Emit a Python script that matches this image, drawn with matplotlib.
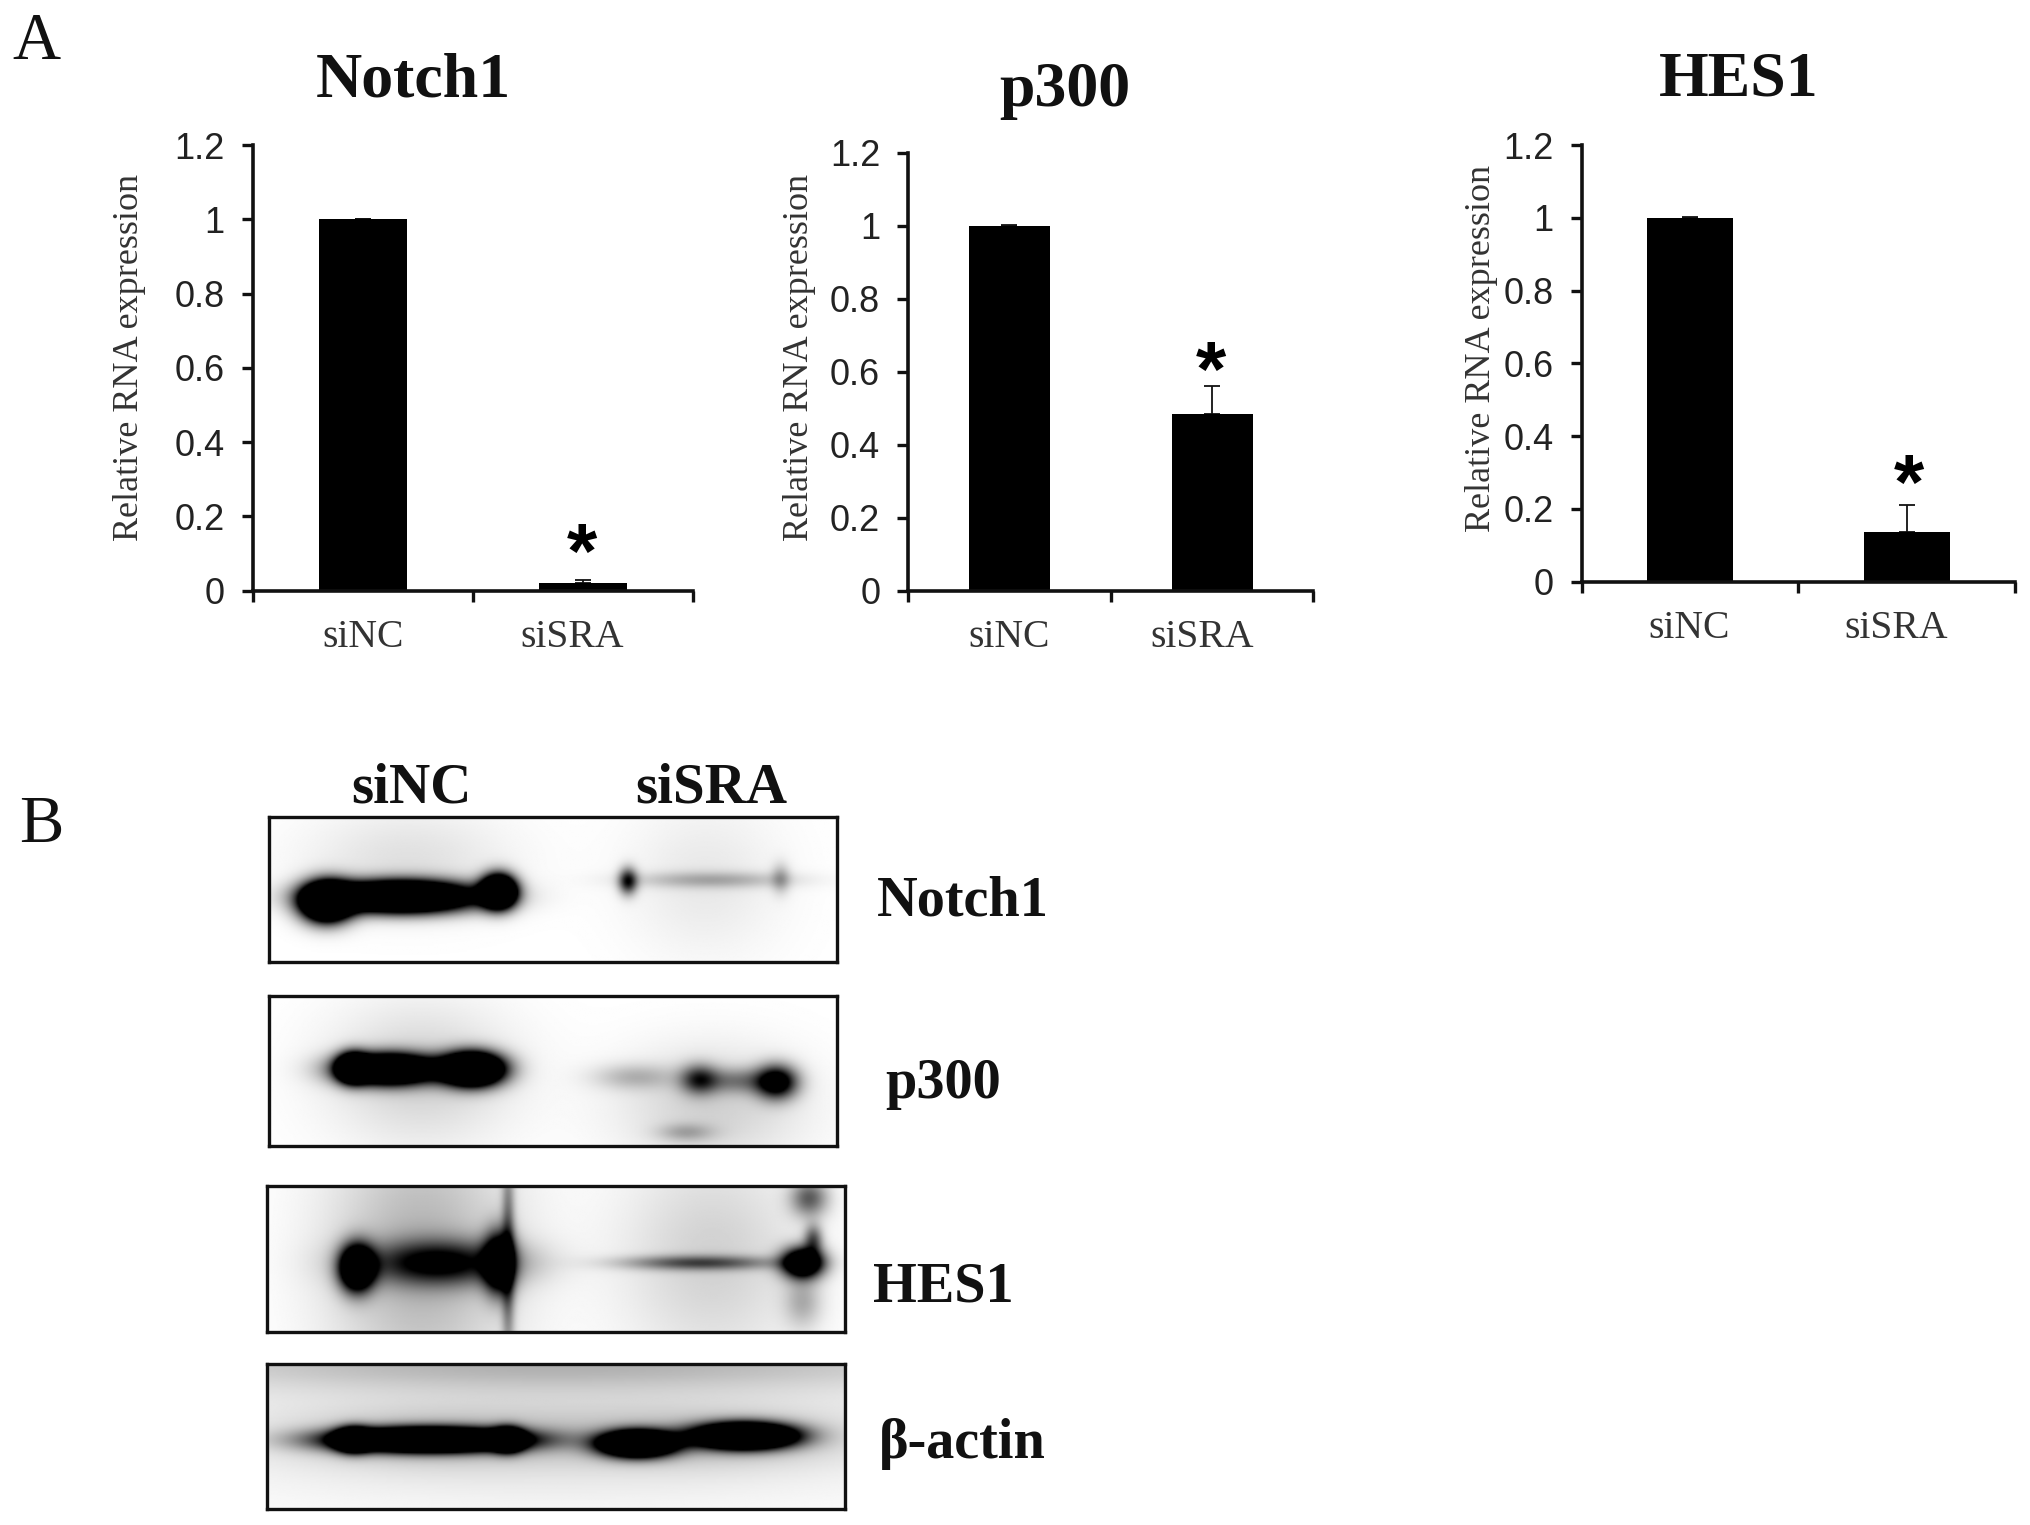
import numpy as np
import matplotlib
matplotlib.use("Agg")
import matplotlib.pyplot as plt

W, H = 2031, 1525
S = 2031 / 1568

conditions = ["siNC", "siSRA"]
yticks = [0, 0.2, 0.4, 0.6, 0.8, 1.0, 1.2]
ytick_labels = ["0", "0.2", "0.4", "0.6", "0.8", "1", "1.2"]

notch1_values = [1.0, 0.02]
notch1_errors = [0.002, 0.01]
p300_values = [1.0, 0.485]
p300_errors = [0.002, 0.075]
hes1_values = [1.0, 0.135]
hes1_errors = [0.002, 0.075]

fig = plt.figure(figsize=(W / 100, H / 100), dpi=100, facecolor="white")


def rect(x0, y0, x1, y1):
    """axes rectangle from coordinates in the shrunk view (y down)"""
    return [x0 * S / W, 1 - y1 * S / H, (x1 - x0) * S / W, (y1 - y0) * S / H]


def ftext(x, y, s, **kw):
    kw.setdefault("ha", "center")
    kw.setdefault("va", "center")
    fig.text(x * S / W, 1 - y * S / H, s, **kw)


SERIF = "Liberation Serif"
SANS = "Liberation Sans"

panels = [
    ("Notch1", notch1_values, notch1_errors, (195, 112, 535, 456), (319, 63), (100, 276), (280, 492), (442, 492), (449, 424)),
    ("p300", p300_values, p300_errors, (701, 118, 1014, 456), (822, 70), (617, 276), (779, 492), (928, 492), (935, 284)),
    ("HES1", hes1_values, hes1_errors, (1221, 112, 1556, 449), (1342, 62), (1144, 269), (1304, 485), (1464, 485), (1474, 371)),
]

for title, vals, errs, box, tpos, ypos, l0, l1, star in panels:
    ax = fig.add_axes(rect(*box))
    ax.set_xlim(0, 2)
    ax.set_ylim(0, 1.2)
    ax.patch.set_alpha(0)
    ax.bar([0.5, 1.5], vals, width=0.4, color="black", zorder=2)
    ax.errorbar([0.5, 1.5], vals, yerr=[[0, 0], errs], fmt="none", ecolor="#111111",
                elinewidth=1.3, capsize=6, capthick=1.3, zorder=1)
    for sp in ("top", "right"):
        ax.spines[sp].set_visible(False)
    for sp in ("left", "bottom"):
        ax.spines[sp].set_linewidth(2.6)
        ax.spines[sp].set_color("#111111")
    ax.set_yticks(yticks)
    ax.set_yticklabels(ytick_labels, fontsize=26, family=SANS, color="#222222")
    ax.set_xticks([0, 1, 2])
    ax.set_xticklabels([])
    ax.tick_params(axis="both", direction="out", length=8, width=2.4, color="#111111")
    ax.tick_params(axis="y", pad=12)
    ftext(*tpos, title, family=SERIF, weight="bold", fontsize=46, color="#111111")
    ftext(*ypos, "Relative RNA expression", family=SERIF, rotation=90, fontsize=26, color="#333333")
    ftext(*l0, conditions[0], family=SERIF, fontsize=28.5, color="#333333")
    ftext(*l1, conditions[1], family=SERIF, fontsize=28.5, color="#333333")
    ftext(*star, "*", family=SANS, weight="bold", fontsize=56, color="black", va="center_baseline")

# Western blot bands: (x centre, y centre, x spread, y spread, strength)
notch1_bands = [(252, 697, 13, 10, 3), (310, 693, 38, 8, 3), (385, 689, 9, 8.5, 3), (315, 665, 55, 28, .12),
                (485, 681, 5, 7, .9), (550, 680, 42, 4.5, .28), (603, 679, 5, 8, .3), (545, 680, 42, 42, .09)]
p300_bands = [(300, 826, 25, 8, 2.5), (365, 826, 16, 8.5, 3), (272, 825, 8, 7.5, 2), (325, 830, 50, 38, .18),
              (490, 832, 22, 7, .25), (540, 834, 10, 8, .7), (600, 836, 11, 9, 1.2), (570, 835, 20, 7, .4),
              (550, 855, 50, 32, .18), (530, 875, 15, 5, .25)]
hes1_bands = [(275, 979, 9, 12, 2), (340, 975, 40, 12, .9), (385, 975, 8, 16, 1.5), (325, 970, 50, 75, .3),
              (392, 970, 3.5, 60, .5), (540, 975, 40, 4, .6), (620, 975, 11, 8, 1.8), (625, 925, 10, 10, .6),
              (628, 957, 5, 8, .6), (550, 970, 50, 60, .18), (620, 1005, 10, 14, .28)]
actin_bands = [(330, 1112, 48, 6, 3), (272, 1112, 9, 6, 2), (392, 1112, 8, 6, 2), (492, 1115, 19, 6.5, 3),
               (575, 1109, 26, 6.5, 3), (335, 1112, 75, 15, .2), (540, 1112, 80, 15, .2),
               (430, 1053, 250, 14, .25), (430, 1095, 230, 35, .12), (430, 1150, 200, 18, .03)]

blots = [
    (notch1_bands, (208, 631, 646, 743), "Notch1", (743, 696)),
    (p300_bands, (208, 769, 646, 885), "p300", (728, 837)),
    (hes1_bands, (206, 916, 652, 1028), "HES1", (728, 994)),
    (actin_bands, (206, 1053, 652, 1165), "β-actin", (743, 1115)),
]

for bands, box, label, lpos in blots:
    x0, y0, x1, y1 = box
    ax = fig.add_axes(rect(*box))
    xx, yy = np.meshgrid(np.linspace(x0, x1, 440), np.linspace(y0, y1, 120))
    dark = np.zeros_like(xx)
    for xc, yc, sx, sy, amp in bands:
        dark += amp * np.exp(-((xx - xc) / sx) ** 2 / 2 - ((yy - yc) / sy) ** 2 / 2)
    ax.imshow(np.clip(dark, 0, 1), cmap="gray_r", vmin=0, vmax=1, aspect="auto",
              extent=(x0, x1, y1, y0), interpolation="bilinear")
    ax.set_xticks([])
    ax.set_yticks([])
    for sp in ax.spines.values():
        sp.set_linewidth(2.4)
        sp.set_color("#111111")
    ftext(*lpos, label, family=SERIF, weight="bold", fontsize=40.5, color="#111111")

ftext(318, 609, conditions[0], family=SERIF, weight="bold", fontsize=41, color="#111111")
ftext(549, 609, conditions[1], family=SERIF, weight="bold", fontsize=41, color="#111111")
ftext(28, 33, "A", family=SERIF, fontsize=48, color="#111111")
ftext(32, 637, "B", family=SERIF, fontsize=48, color="#111111")

fig.savefig("out.png", dpi=100, facecolor="white")
